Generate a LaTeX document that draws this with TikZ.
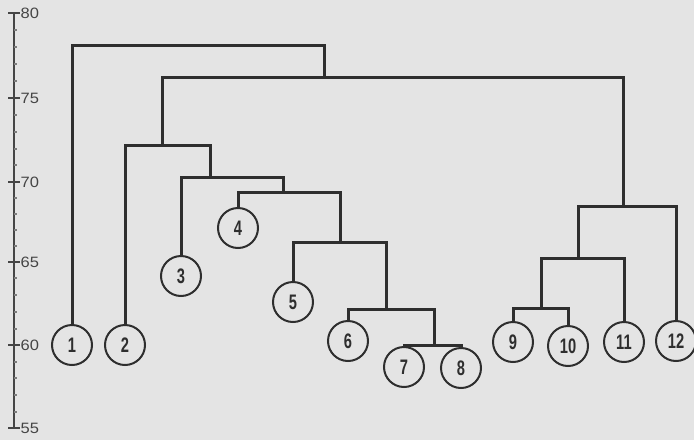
\documentclass[tikz,border=0pt]{standalone}
\usepackage{fontspec}
\setmainfont{Liberation Sans}
\definecolor{paper}{HTML}{E4E4E4}
\definecolor{ink}{HTML}{2E2E2E}
\definecolor{scaleink}{HTML}{454545}
\tikzset{
  leaf/.style={circle, draw=ink, line width=2pt, minimum size=40pt, inner sep=0pt,
    font=\fontsize{21}{21}\selectfont\bfseries, text=ink},
  link/.style={draw=ink, line width=3pt, line cap=rect},
  axisline/.style={draw=scaleink, line width=2.6pt},
  majortick/.style={draw=scaleink, line width=2.2pt},
  minortick/.style={draw=scaleink!70, line width=1.2pt},
  scalelabel/.style={anchor=west, inner sep=0pt, text=scaleink,
    font=\fontsize{15}{15}\selectfont}
}
\newcommand{\narrow}[1]{\scalebox{0.7}[1]{#1}}
\newcommand{\wide}[1]{\scalebox{1.1}[1]{#1}}
\begin{document}
\begin{tikzpicture}[x=1pt, y=-1pt]
  \fill[paper] (0,0) rectangle (694,440);
  \useasboundingbox (0,0) rectangle (694,440);

  % vertical scale
  \coordinate (axtop) at (14,13);
  \coordinate (axbot) at (14,428);
  \draw[axisline] (axtop) -- (axbot);
  \foreach \v/\yy in {80/13, 75/98, 70/182, 65/262, 60/345, 55/428} {
    \draw[majortick] (8,\yy) -- (20,\yy);
    \node[scalelabel] (lab\v) at (20.5,\yy) {\wide{\v}};
  }
  \foreach \yy in {30,47,64,81, 115,132,149,165, 198,214,230,246, 278,295,312,329, 362,378,395,412}
    \draw[minortick] (14,\yy) -- (17,\yy);

  % leaves
  \node[leaf] (n1)  at (72,345)  {\narrow{1}};
  \node[leaf] (n2)  at (125,345) {\narrow{2}};
  \node[leaf] (n3)  at (181,276) {\narrow{3}};
  \node[leaf] (n4)  at (238,228) {\narrow{4}};
  \node[leaf] (n5)  at (293,302) {\narrow{5}};
  \node[leaf] (n6)  at (348,341) {\narrow{6}};
  \node[leaf] (n7)  at (404,367) {\narrow{7}};
  \node[leaf] (n8)  at (461,368) {\narrow{8}};
  \node[leaf] (n9)  at (513,342) {\narrow{9}};
  \node[leaf] (n10) at (568,346) {\narrow{10}};
  \node[leaf] (n11) at (624,342) {\narrow{11}};
  \node[leaf] (n12) at (676,341) {\narrow{12}};

  % merge points (top centre of each bracket)
  \coordinate (m78)   at (434,345);
  \coordinate (m6)    at (386,309);
  \coordinate (m5)    at (340,242);
  \coordinate (m4)    at (283,192);
  \coordinate (m3)    at (210,177);
  \coordinate (m2)    at (162,145);
  \coordinate (m910)  at (541,308);
  \coordinate (m11)   at (578,258);
  \coordinate (m12)   at (623,206);
  \coordinate (mmid)  at (324,77);
  \coordinate (mroot) at (324,45);

  % brackets
  \draw[link] (n7.north) |- (m78) -| (n8.north);
  \draw[link] (n6.north) |- (m6) -| (m78);
  \draw[link] (n5.north) |- (m5) -| (m6);
  \draw[link] (n4.north) |- (m4) -| (m5);
  \draw[link] (n3.north) |- (m3) -| (m4);
  \draw[link] (n2.north) |- (m2) -| (m3);
  \draw[link] (n9.north) |- (m910) -| (n10.north);
  \draw[link] (m910) |- (m11) -| (n11.north);
  \draw[link] (m11) |- (m12) -| (n12.north);
  \draw[link] (m2) |- (mmid) -| (m12);
  \draw[link] (n1.north) |- (mroot) -- (mmid);
\end{tikzpicture}
\end{document}
